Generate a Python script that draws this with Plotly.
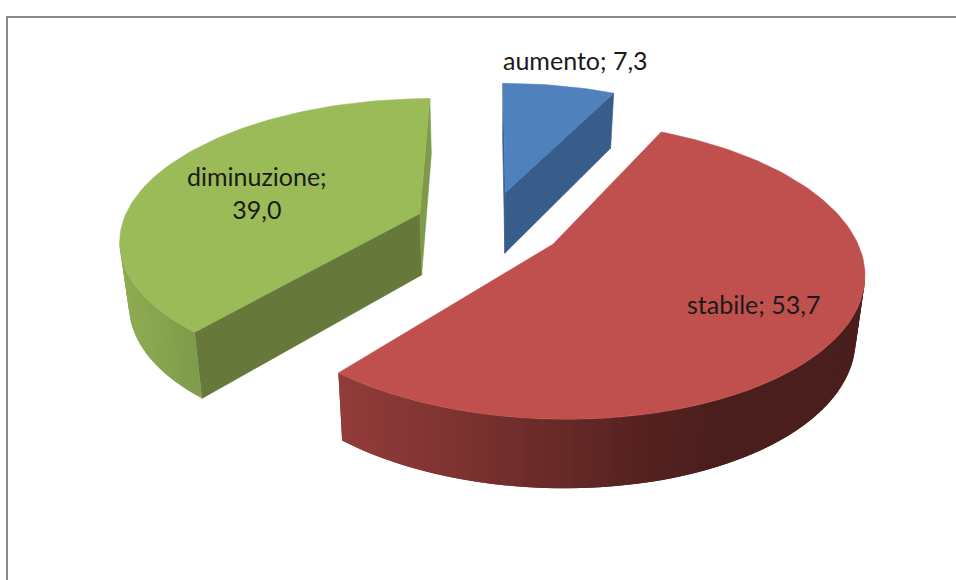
import math
import plotly.graph_objects as go

# --- data ---
categories = ["aumento", "stabile", "diminuzione"]
values = [7.3, 53.7, 39.0]
value_labels = ["7,3", "53,7", "39,0"]
label_texts = ["aumento; 7,3", "stabile; 53,7", "diminuzione;<br>39,0"]

# --- styling / projection of the exploded 3-D pie ---
top_colors = ["#4f81bd", "#c0504d", "#9bbb59"]
inner_colors = ["#385d8a", "#8c3836", "#66793a"]
rim_ramps = [
    [(500, (56, 93, 138)), (620, (56, 93, 138))],
    [(340, (146, 60, 58)), (470, (122, 50, 48)), (640, (86, 34, 32)), (720, (74, 30, 29)), (870, (74, 30, 29))],
    [(118, (143, 172, 84)), (205, (124, 153, 72))],
]
label_pos = [(575, 60), (753, 304), (257, 192)]

CX, CY, A, B, K = 489, 225, 298, 138, 0.17
EXPLODE, H = 0.25, 62
TILT = 0.025


def project(u, v, z=0.0):
    w = 1 + K * v
    x = CX + A * u / w
    return x - z * TILT * (x - CX), CY - B * v / w + z * H * (1 - 0.10 * v)


def visible(px, pv, nx, nv):
    return px * nx + (pv + 1 / K) * nv < 0


def ramp(ramp_pts, x):
    if x <= ramp_pts[0][0]:
        return ramp_pts[0][1]
    for (x0, c0), (x1, c1) in zip(ramp_pts, ramp_pts[1:]):
        if x <= x1:
            t = (x - x0) / (x1 - x0)
            return tuple(c0[i] + t * (c1[i] - c0[i]) for i in range(3))
    return ramp_pts[-1][1]


def rgb(c):
    return "rgb(%d,%d,%d)" % tuple(round(x) for x in c)


def poly(fig, pts, color, line=0.6):
    xs = [p[0] for p in pts] + [pts[0][0]]
    ys = [p[1] for p in pts] + [pts[0][1]]
    fig.add_trace(go.Scatter(x=xs, y=ys, mode="lines", fill="toself", fillcolor=color,
                             line=dict(color=color, width=line), hoverinfo="skip", showlegend=False))


total = sum(values)
wedges = []
start = 0.0
for i, val in enumerate(values):
    sweep = val / total * 2 * math.pi
    wedges.append((i, start, start + sweep))
    start += sweep

fig = go.Figure()
for i, a0, a1 in [wedges[2], wedges[0], wedges[1]]:
    mid = (a0 + a1) / 2
    ou, ov = EXPLODE * math.sin(mid), EXPLODE * math.cos(mid)
    n = max(8, int((a1 - a0) / math.radians(1.5)))
    angs = [a0 + (a1 - a0) * j / n for j in range(n + 1)]
    edge = [(ou + math.sin(t), ov + math.cos(t)) for t in angs]

    # flat cut faces
    for t, normal in ((a0, (-math.cos(a0), math.sin(a0))), (a1, (math.cos(a1), -math.sin(a1)))):
        pu, pv = ou + math.sin(t), ov + math.cos(t)
        if visible((pu + ou) / 2, (pv + ov) / 2, normal[0], normal[1]):
            color = inner_colors[i]
            if i == 2 and abs(t - 2 * math.pi) < 1e-6:
                color = "#7f9a4a"
            poly(fig, [project(ou, ov), project(pu, pv), project(pu, pv, 1), project(ou, ov, 1)], color)

    # curved rim: each strip overlaps the next one so no seams show
    for j in range(n):
        t = (angs[j] + angs[j + 1]) / 2
        if visible(ou + math.sin(t), ov + math.cos(t), math.sin(t), math.cos(t)):
            far = edge[min(j + 2, n)]
            p0, p1 = project(*edge[j]), project(*far)
            p2, p3 = project(*far, 1), project(*edge[j], 1)
            mx = (project(*edge[j])[0] + project(*edge[j + 1])[0]) / 2
            poly(fig, [p0, p1, p2, p3], rgb(ramp(rim_ramps[i], mx)), line=0)

    # top face
    poly(fig, [project(ou, ov)] + [project(*e) for e in edge], top_colors[i])

for (x, y), text in zip(label_pos, label_texts):
    fig.add_annotation(x=x, y=y, text=text, showarrow=False, xanchor="center", yanchor="middle",
                       font=dict(family="Lato, Carlito, Open Sans", size=25, color="#1a1a1a"))

fig.update_layout(
    width=956, height=580, margin=dict(l=0, r=0, t=0, b=0), showlegend=False,
    paper_bgcolor="white", plot_bgcolor="white",
    xaxis=dict(range=[0, 956], visible=False, fixedrange=True),
    yaxis=dict(range=[580, 0], visible=False, fixedrange=True),
    shapes=[dict(type="rect", xref="x", yref="y", x0=7, y0=17, x1=975, y1=600,
                 line=dict(color="#8a8a8a", width=2), fillcolor="rgba(0,0,0,0)", layer="below")],
)
fig.write_html("out.html", config={"displayModeBar": False},
               post_script="document.body.style.margin='0';document.body.style.overflow='hidden';")
